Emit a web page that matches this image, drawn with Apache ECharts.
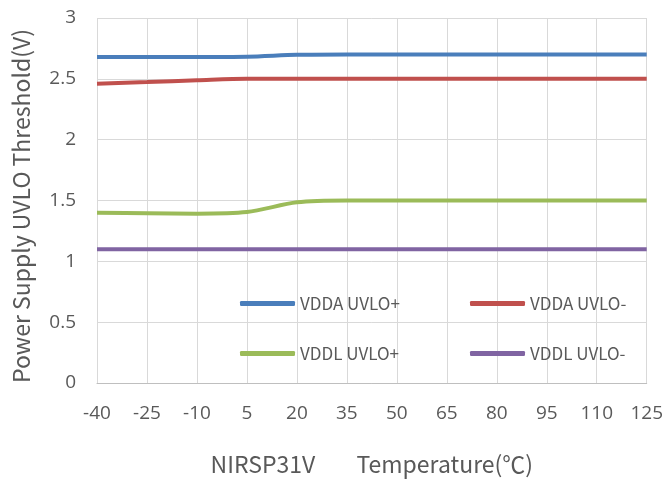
<!DOCTYPE html>
<html><head><meta charset="utf-8">
<script src="https://cdn.jsdelivr.net/npm/echarts@6/dist/echarts.min.js"></script>
<style>html,body{margin:0;padding:0;background:#fff}#c{width:666px;height:483px}</style>
</head><body><div id="c"></div>
<script>
var categories = ['-40','-25','-10','5','20','35','50','65','80','95','110','125'];
var vddaPlus  = [2.68, 2.68, 2.68, 2.682, 2.697, 2.70, 2.70, 2.70, 2.70, 2.70, 2.70, 2.70];
var vddaMinus = [2.46, 2.473, 2.488, 2.501, 2.50, 2.50, 2.50, 2.50, 2.50, 2.50, 2.50, 2.50];
var vddlPlus  = [1.40, 1.396, 1.392, 1.405, 1.485, 1.50, 1.50, 1.50, 1.50, 1.50, 1.50, 1.50];
var vddlMinus = [1.10, 1.10, 1.10, 1.10, 1.10, 1.10, 1.10, 1.10, 1.10, 1.10, 1.10, 1.10];
var seriesNames = ['VDDA UVLO+', 'VDDA UVLO-', 'VDDL UVLO+', 'VDDL UVLO-'];
var colors = ['#4a7ebb', '#c0504d', '#9bbb59', '#8064a2'];
var yTicks = { min: 0, max: 3, interval: 0.5 };

var font = 'Open Sans, Liberation Sans, sans-serif';
var cjk = 'Noto Sans CJK SC, Noto Sans, sans-serif';
var chart = echarts.init(document.getElementById('c'));
function mkLegend(name, left, top) {
  return { data: [name], left: left, top: top, padding: 0, icon: 'roundRect', itemWidth: 55, itemHeight: 5,
    itemGap: 0, textStyle: { color: '#595959', fontSize: 17, fontFamily: cjk } };
}
var data = [vddaPlus, vddaMinus, vddlPlus, vddlMinus];
chart.setOption({
  animation: false,
  backgroundColor: '#fff',
  color: colors,
  grid: { left: 97, right: 19, top: 18, bottom: 100 },
  legend: [mkLegend(seriesNames[0], 240, 295), mkLegend(seriesNames[1], 470, 295),
           mkLegend(seriesNames[2], 240, 345), mkLegend(seriesNames[3], 470, 345)],
  xAxis: {
    type: 'category', data: categories, boundaryGap: false,
    name: 'NIRSP31V        Temperature(℃)', nameLocation: 'middle', nameGap: 70,
    nameTextStyle: { color: '#595959', fontSize: 23, fontFamily: cjk },
    axisLine: { lineStyle: { color: '#bfbfbf', width: 1 } },
    axisTick: { show: false },
    axisLabel: { color: '#595959', fontSize: 19, fontFamily: font, margin: 21 },
    splitLine: { show: true, lineStyle: { color: '#d9d9d9', width: 1 } }
  },
  yAxis: {
    type: 'value', min: yTicks.min, max: yTicks.max, interval: yTicks.interval,
    name: 'Power Supply UVLO Threshold(V)', nameLocation: 'middle', nameGap: 64,
    nameTextStyle: { color: '#595959', fontSize: 23, fontFamily: cjk, padding: [0, 11, 0, 0] },
    axisLine: { show: false }, axisTick: { show: false },
    axisLabel: { color: '#595959', fontSize: 19, fontFamily: font, margin: 21 },
    splitLine: { lineStyle: { color: '#d9d9d9', width: 1 } }
  },
  series: seriesNames.map(function (n, i) {
    return { name: n, type: 'line', data: data[i], smooth: 0.3, showSymbol: false, symbol: 'none',
      lineStyle: { width: 4, color: colors[i] }, itemStyle: { color: colors[i] } };
  })
});
</script></body></html>
